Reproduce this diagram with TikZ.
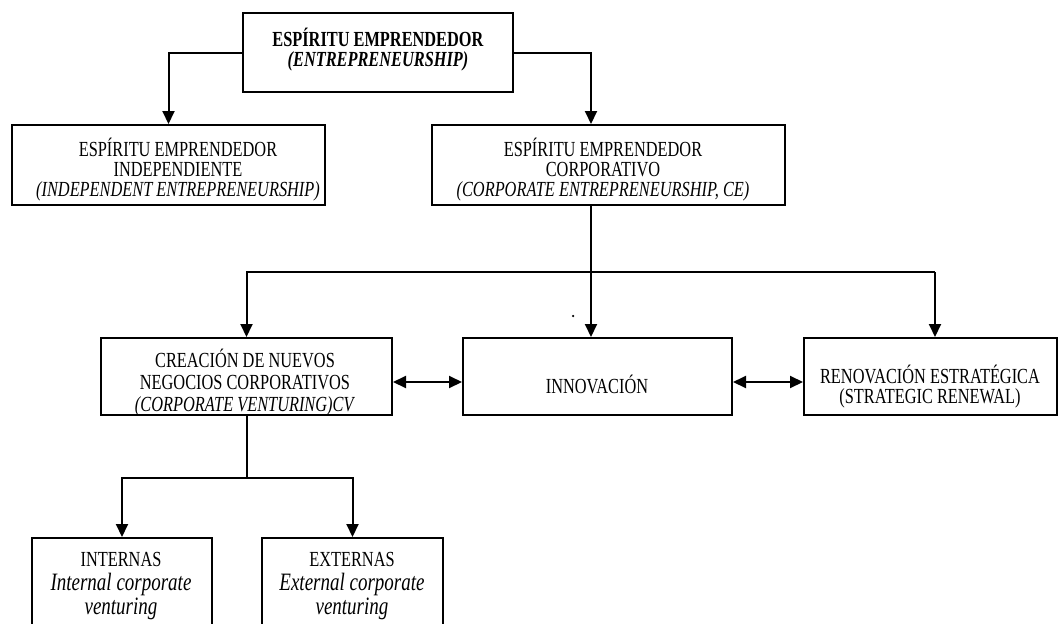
\documentclass[tikz,border=0pt]{standalone}
\usepackage{fontspec}
\setmainfont{Liberation Serif}[FakeStretch=0.76]
\usetikzlibrary{arrows.meta,calc}
\tikzset{
  box/.style={draw, line width=2pt, rectangle, inner sep=0pt},
  txt/.style={align=center, inner sep=0pt, font=\fontsize{21.5}{20}\selectfont},
  conn/.style={line width=2pt},
  arr/.style={conn, -{Triangle[length=13pt,width=12pt]}},
  darr/.style={conn, {Triangle[length=13pt,width=12pt]}-{Triangle[length=13pt,width=12pt]}}
}
\begin{document}
\begin{tikzpicture}[x=1pt,y=-1pt]
\path[use as bounding box, clip] (0,0) rectangle (1061,624);
% boxes
\node[box, minimum width=270pt, minimum height=79pt] (top) at (378,52.5) {};
\node[box, minimum width=313pt, minimum height=80pt] (indep) at (168.5,165) {};
\node[box, minimum width=353pt, minimum height=80pt] (corp) at (608.5,165) {};
\node[box, minimum width=291pt, minimum height=77pt] (crea) at (246.5,376.5) {};
\node[box, minimum width=269pt, minimum height=77pt] (innov) at (597.5,376.5) {};
\node[box, minimum width=253pt, minimum height=77pt] (reno) at (930.5,376.5) {};
\node[box, minimum width=180pt, minimum height=100pt] (intern) at (122,588) {};
\node[box, minimum width=181pt, minimum height=100pt] (extern) at (352.5,588) {};
% texts
\node[txt, font=\fontsize{21.5}{20}\selectfont] (topt) at (378,50) {\textbf{ESPÍRITU EMPRENDEDOR}\\\textbf{\textit{(ENTREPRENEURSHIP)}}};
\node[txt] (indept) at (178,170) {ESPÍRITU EMPRENDEDOR\\INDEPENDIENTE\\\textit{(INDEPENDENT ENTREPRENEURSHIP)}};
\node[txt] (corpt) at (603,170) {ESPÍRITU EMPRENDEDOR\\CORPORATIVO\\\textit{(CORPORATE ENTREPRENEURSHIP, CE)}};
\node[txt, font=\fontsize{21.5}{22}\selectfont] (creat) at (245,383) {CREACIÓN DE NUEVOS\\NEGOCIOS CORPORATIVOS\\\textit{(CORPORATE VENTURING)CV}};
\node[txt] (innovt) at (597,384) {INNOVACIÓN};
\node[txt, font=\fontsize{21.5}{20}\selectfont] (renot) at (930,387) {RENOVACIÓN ESTRATÉGICA\\(STRATEGIC RENEWAL)};
\node[txt, font=\fontsize{21.5}{24}\selectfont] (internt) at (121,586) {INTERNAS\\\textit{\fontsize{25}{24}\selectfont Internal corporate}\\\textit{\fontsize{25}{24}\selectfont venturing}};
\node[txt, font=\fontsize{21.5}{24}\selectfont] (externt) at (352,586) {EXTERNAS\\\textit{\fontsize{25}{24}\selectfont External corporate}\\\textit{\fontsize{25}{24}\selectfont venturing}};
\node[circle, fill, inner sep=0pt, minimum size=2.5pt] (dot) at (573,316) {};
% helper coordinates
\coordinate (cx) at (591,0);
\coordinate (hy) at (0,272);
\coordinate (rx) at (935,0);
\coordinate (ay) at (0,382);
\coordinate (by) at (0,478);
% connectors
\draw[arr] (top.west) -| (indep.north);
\draw[arr] (top.east) -| (cx |- corp.north);
\draw[arr] (cx |- corp.south) -- (cx |- innov.north);
\draw[arr] (rx |- hy) -| (crea.north);
\draw[arr] (rx |- hy) -- (rx |- reno.north);
\draw[darr] (crea.east |- ay) -- (innov.west |- ay);
\draw[darr] (innov.east |- ay) -- (reno.west |- ay);
\draw[conn] (crea.south) -- (crea.south |- by);
\draw[arr] (crea.south |- by) -| (intern.north);
\draw[arr] (crea.south |- by) -| (extern.north);
\end{tikzpicture}
\end{document}
